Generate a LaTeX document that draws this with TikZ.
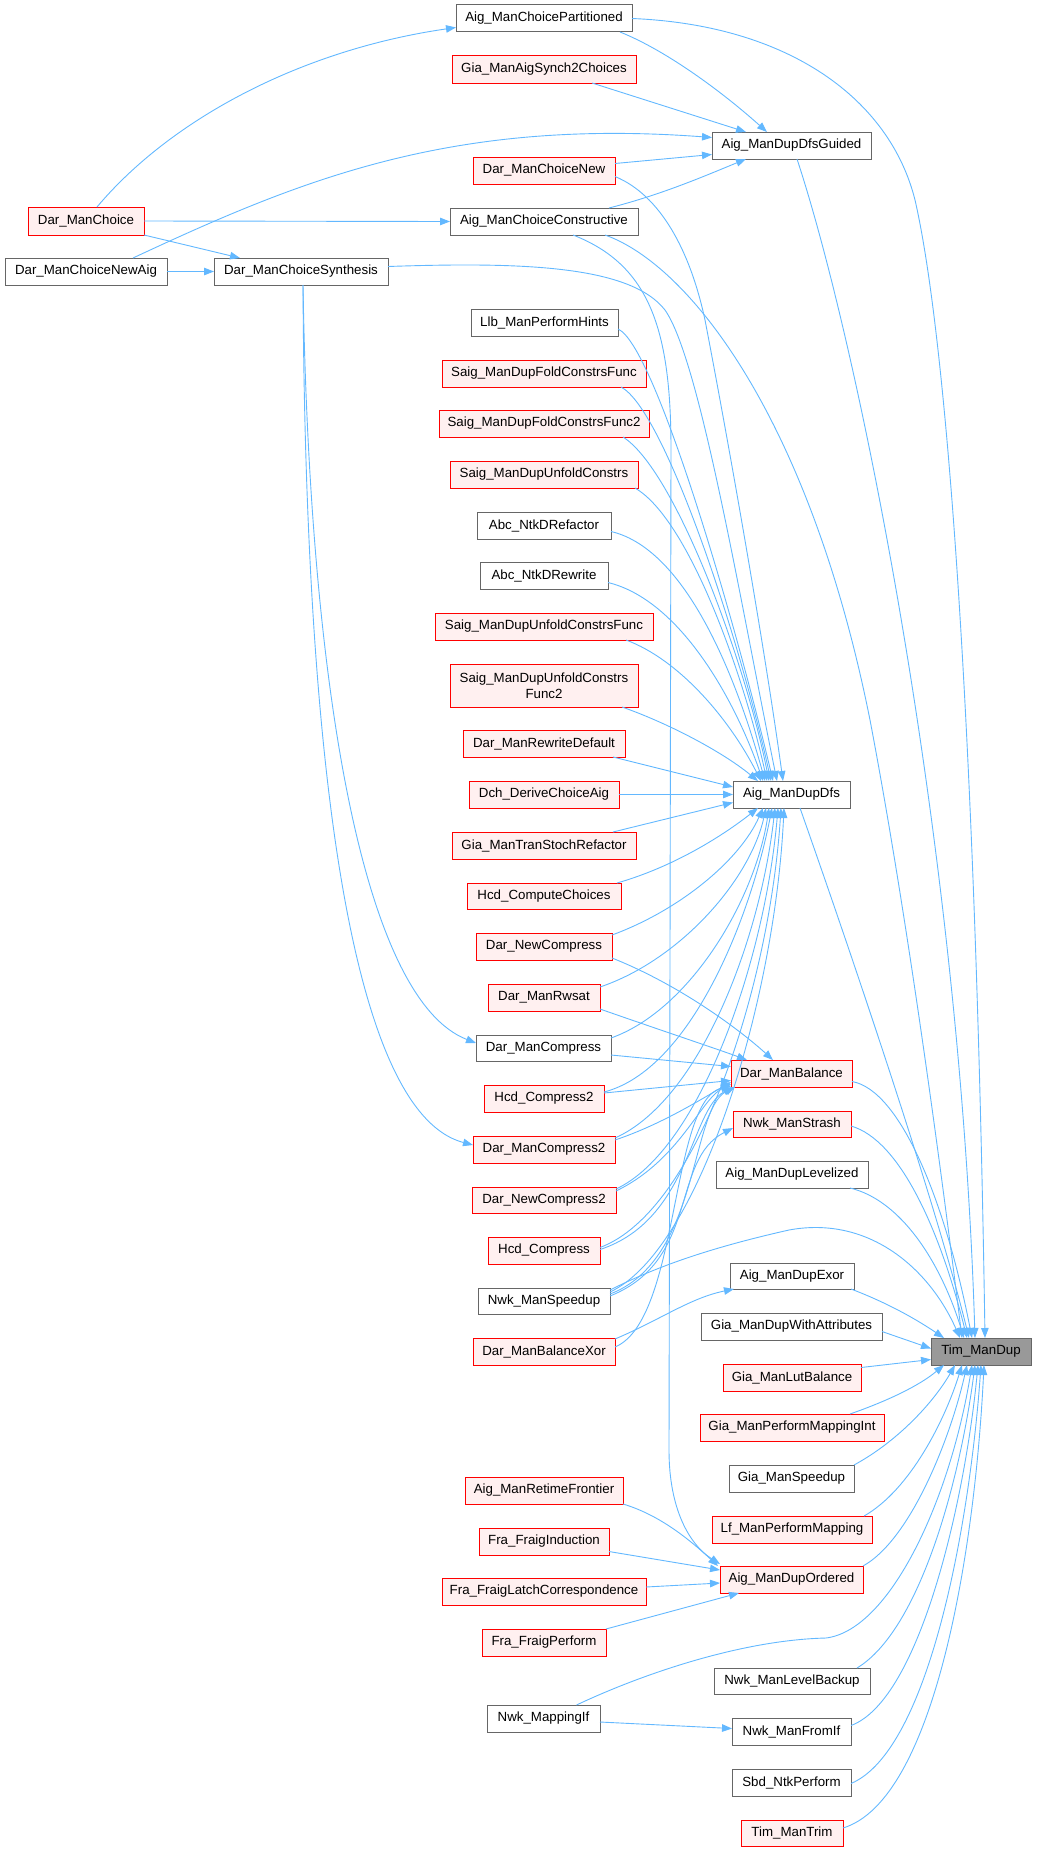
\documentclass[tikz,border=0pt]{standalone}
\usepackage{fontspec}
\setmainfont{Liberation Sans}
\usetikzlibrary{arrows.meta}
\definecolor{edgecol}{HTML}{63B8FF}
\definecolor{nodered}{HTML}{FF0000}
\definecolor{nodefill}{HTML}{FFF0F0}
\definecolor{nodegray}{HTML}{666666}
\definecolor{timfill}{HTML}{999999}
\tikzset{
  box/.style={rectangle, inner sep=0pt, outer sep=0pt, line width=1pt, align=center, font=\fontsize{13.3}{16}\selectfont},
  rbox/.style={box, draw=nodered, fill=nodefill},
  gbox/.style={box, draw=nodegray, fill=white},
  tbox/.style={box, draw=nodegray, fill=timfill},
  ed/.style={draw=edgecol, line width=0.9pt, -{Triangle[length=10pt,width=7.5pt]}}
}
\newcommand{\fnode}[7]{\node[#6, minimum width={(#4)-(#2)}, minimum height={(#5)-(#3)}] (#1) at ({((#2)+(#4))/2},{((#3)+(#5))/2}) {#7};}
\begin{document}
\begin{tikzpicture}[x=1pt,y=-1pt]
\useasboundingbox (0,0) rectangle (1036,1852);
% nodes
\fnode{cp}{456}{5}{632}{32}{gbox}{Aig\_ManChoicePartitioned}
\fnode{gs}{452}{56}{636}{83}{rbox}{Gia\_ManAigSynch2Choices}
\fnode{dg}{712}{132}{871}{159}{gbox}{Aig\_ManDupDfsGuided}
\fnode{cn}{473}{157}{615}{184}{rbox}{Dar\_ManChoiceNew}
\fnode{dc}{28}{207}{144}{235}{rbox}{Dar\_ManChoice}
\fnode{cc}{450}{208}{638}{235}{gbox}{Aig\_ManChoiceConstructive}
\fnode{na}{5}{258}{167}{285}{gbox}{Dar\_ManChoiceNewAig}
\fnode{cs}{214}{258}{388}{285}{gbox}{Dar\_ManChoiceSynthesis}
\fnode{llb}{471}{309}{618}{336}{gbox}{Llb\_ManPerformHints}
\fnode{sf1}{442}{360}{646}{387}{rbox}{Saig\_ManDupFoldConstrsFunc}
\fnode{sf2}{439}{410}{649}{437}{rbox}{Saig\_ManDupFoldConstrsFunc2}
\fnode{su}{450}{461}{638}{488}{rbox}{Saig\_ManDupUnfoldConstrs}
\fnode{arf}{477}{512}{611}{539}{gbox}{Abc\_NtkDRefactor}
\fnode{arw}{480}{562}{608}{589}{gbox}{Abc\_NtkDRewrite}
\fnode{suf}{435}{613}{653}{640}{rbox}{Saig\_ManDupUnfoldConstrsFunc}
\fnode{suf2}{450}{664}{638}{707}{rbox}{Saig\_ManDupUnfoldConstrs\\Func2}
\fnode{rwd}{463}{730}{625}{757}{rbox}{Dar\_ManRewriteDefault}
\fnode{dch}{469}{781}{619}{808}{rbox}{Dch\_DeriveChoiceAig}
\fnode{dd}{733}{781}{850}{808}{gbox}{Aig\_ManDupDfs}
\fnode{gts}{452}{832}{636}{859}{rbox}{Gia\_ManTranStochRefactor}
\fnode{hcc}{467}{883}{621}{909}{rbox}{Hcd\_ComputeChoices}
\fnode{dnc}{476}{933}{612}{960}{rbox}{Dar\_NewCompress}
\fnode{rws}{488}{984}{600}{1011}{rbox}{Dar\_ManRwsat}
\fnode{dmc}{476}{1035}{611}{1061}{gbox}{Dar\_ManCompress}
\fnode{db}{731}{1060}{852}{1087}{rbox}{Dar\_ManBalance}
\fnode{hc2}{484}{1085}{604}{1112}{rbox}{Hcd\_Compress2}
\fnode{ns}{733}{1111}{851}{1137}{rbox}{Nwk\_ManStrash}
\fnode{dmc2}{473}{1136}{615}{1163}{rbox}{Dar\_ManCompress2}
\fnode{dl}{716}{1161}{868}{1188}{gbox}{Aig\_ManDupLevelized}
\fnode{dnc2}{472}{1187}{616}{1213}{rbox}{Dar\_NewCompress2}
\fnode{hcd}{488}{1237}{600}{1264}{rbox}{Hcd\_Compress}
\fnode{dx}{730}{1263}{854}{1289}{gbox}{Aig\_ManDupExor}
\fnode{nsp}{478}{1288}{610}{1314}{gbox}{Nwk\_ManSpeedup}
\fnode{gwa}{701}{1313}{882}{1340}{gbox}{Gia\_ManDupWithAttributes}
\fnode{tim}{931}{1338}{1031}{1365}{tbox}{Tim\_ManDup}
\fnode{bx}{473}{1338}{615}{1365}{rbox}{Dar\_ManBalanceXor}
\fnode{glb}{723}{1364}{861}{1391}{rbox}{Gia\_ManLutBalance}
\fnode{gpm}{700}{1414}{884}{1441}{rbox}{Gia\_ManPerformMappingInt}
\fnode{gsp}{729}{1465}{854}{1492}{gbox}{Gia\_ManSpeedup}
\fnode{rtf}{465}{1477}{623}{1504}{rbox}{Aig\_ManRetimeFrontier}
\fnode{lf}{712}{1516}{872}{1543}{rbox}{Lf\_ManPerformMapping}
\fnode{fi}{479}{1528}{609}{1555}{rbox}{Fra\_FraigInduction}
\fnode{dord}{720}{1566}{863}{1593}{rbox}{Aig\_ManDupOrdered}
\fnode{flc}{442}{1578}{646}{1605}{rbox}{Fra\_FraigLatchCorrespondence}
\fnode{fp}{482}{1629}{606}{1656}{rbox}{Fra\_FraigPerform}
\fnode{nlb}{714}{1668}{870}{1694}{gbox}{Nwk\_ManLevelBackup}
\fnode{nmi}{487}{1705}{600}{1732}{gbox}{Nwk\_MappingIf}
\fnode{nfi}{732}{1718}{851}{1745}{gbox}{Nwk\_ManFromIf}
\fnode{sbd}{732}{1769}{851}{1796}{gbox}{Sbd\_NtkPerform}
\fnode{tt}{741}{1820}{843}{1846}{rbox}{Tim\_ManTrim}
% top edges
\draw[ed] ([xshift=11pt]dc.north) .. controls (170,120) and (300,50) .. ([yshift=-9pt]cp.west);
\draw[ed] (dc.east) -- (cc.west);
\draw[ed] (dc.south east) -- ([xshift=26pt]cs.north west);
\draw[ed] (na.east) -- (cs.west);
\draw[ed] ([xshift=47pt]na.north) .. controls (300,180) and (450,118) .. ([yshift=8pt]dg.west);
\draw[ed] ([yshift=7pt]cn.east) -- ([yshift=-9pt]dg.west);
\draw[ed] ([xshift=48pt]gs.south) -- ([xshift=34pt]dg.north west);
\draw[ed] ([xshift=-12pt]cp.south east) .. controls (665,50) and (720,90) .. ([xshift=55pt]dg.north west);
\draw[ed] ([xshift=-29pt]cc.north east) .. controls (660,195) and (700,178) .. ([xshift=34pt]dg.south west);
\draw[ed] (cp.east) .. controls (790,25) and (890,100) .. (915,200) .. controls (945,330) and (975,700) .. ([xshift=54pt]tim.north west);
\draw[ed] ([xshift=85pt]dg.south west) .. controls (860,350) and (960,850) .. ([xshift=44pt]tim.north west);
\draw[ed] ([xshift=-33pt]cc.south east) .. controls (690,265) and (810,420) .. (870,720) .. controls (910,930) and (945,1200) .. ([xshift=31pt]tim.north west);
\draw[ed] ([xshift=-65pt]cc.south east) .. controls (650,265) and (671,330) .. (671,450) -- (669,1450) .. controls (669,1510) and (690,1545) .. ([yshift=2pt]dord.north west);
\draw[ed] ([yshift=5pt]cs.east) .. controls (520,262) and (630,265) .. (665,310) .. controls (700,360) and (740,600) .. ([xshift=44pt]dd.north west);
\draw[ed] ([yshift=-6pt]cn.east) .. controls (660,195) and (690,250) .. (705,320) .. controls (730,450) and (765,650) .. ([xshift=50pt]dd.north west);
\draw[ed] ([xshift=2pt]cs.south) .. controls (310,700) and (365,1000) .. ([yshift=5pt]dmc.west);
\draw[ed] ([xshift=2pt]cs.south) .. controls (305,700) and (340,1110) .. ([yshift=4.5pt]dmc2.west);
% into Aig_ManDupDfs from above
\draw[ed] ([yshift=-6.5pt]llb.east) .. controls (655,345) and (735,620) .. ([xshift=40pt]dd.north west);
\draw[ed] ([xshift=-25pt]sf1.south east) .. controls (665,410) and (740,640) .. ([xshift=38pt]dd.north west);
\draw[ed] ([xshift=-26pt]sf2.south east) .. controls (675,470) and (745,660) .. ([xshift=36pt]dd.north west);
\draw[ed] ([xshift=-3pt]su.south east) .. controls (690,520) and (745,680) .. ([xshift=34pt]dd.north west);
\draw[ed] ([yshift=-6pt]arf.east) .. controls (690,550) and (740,690) .. ([xshift=32pt]dd.north west);
\draw[ed] ([yshift=-7pt]arw.east) .. controls (680,600) and (735,700) .. ([xshift=30pt]dd.north west);
\draw[ed] ([xshift=-27pt]suf.south east) .. controls (680,660) and (730,720) .. ([xshift=28pt]dd.north west);
\draw[ed] ([xshift=-16pt]suf2.south east) .. controls (665,722) and (720,750) .. ([xshift=25pt]dd.north west);
\draw[ed] ([xshift=-12pt]rwd.south east) -- ([yshift=7.5pt]dd.west);
\draw[ed] (dch.east) -- (dd.west);
\draw[ed] ([xshift=-23pt]gts.north east) -- ([yshift=-8pt]dd.west);
\draw[ed] ([xshift=-4pt]hcc.north east) .. controls (680,865) and (730,830) .. ([xshift=25pt]dd.south west);
% into Aig_ManDupDfs from below
\draw[ed] ([yshift=-2pt]dnc.north east) .. controls (680,910) and (740,860) .. ([xshift=30pt]dd.south west);
\draw[ed] ([yshift=-3pt]rws.north east) .. controls (680,960) and (750,880) .. ([xshift=33pt]dd.south west);
\draw[ed] ([yshift=-3pt]dmc.north east) .. controls (690,1010) and (755,900) .. ([xshift=36pt]dd.south west);
\draw[ed] ([yshift=-7pt]hc2.north east) .. controls (690,1070) and (750,920) .. ([xshift=39pt]dd.south west);
\draw[ed] ([yshift=-2pt]dmc2.north east) .. controls (700,1100) and (760,940) .. ([xshift=42pt]dd.south west);
\draw[ed] ([yshift=-2pt]dnc2.north east) .. controls (700,1150) and (765,960) .. ([xshift=45pt]dd.south west);
\draw[ed] ([yshift=3pt]hcd.east) .. controls (700,1210) and (770,980) .. ([xshift=48pt]dd.south west);
\draw[ed] ([yshift=-4pt]nsp.north east) .. controls (700,1250) and (775,1000) .. ([xshift=51pt]dd.south west);
% into Dar_ManBalance
\draw[ed] ([yshift=2pt]dnc.south east) .. controls (680,985) and (740,1030) .. ([xshift=42pt]db.north west);
\draw[ed] ([yshift=2pt]rws.south east) .. controls (660,1030) and (720,1050) .. ([xshift=16pt]db.north west);
\draw[ed] ([yshift=-7pt]dmc.east) -- ([yshift=7pt]db.west);
\draw[ed] ([yshift=5.5pt]hc2.east) -- ([yshift=-7pt]db.west);
\draw[ed] ([yshift=-4pt]dmc2.north east) .. controls (660,1125) and (700,1100) .. ([yshift=5pt]db.south west);
\draw[ed] ([yshift=-4pt]dnc2.north east) .. controls (680,1160) and (700,1100) .. ([yshift=3pt]db.south west);
\draw[ed] ([yshift=1pt]hcd.east) .. controls (690,1220) and (690,1110) .. ([xshift=2pt]db.south west);
\draw[ed] ([yshift=-6pt]nsp.north east) .. controls (700,1260) and (690,1110) .. ([xshift=4pt]db.south west);
\draw[ed] ([yshift=-9pt]bx.north east) .. controls (680,1320) and (670,1100) .. ([yshift=1pt]db.south west);
% other middle edges
\draw[ed] ([yshift=-8pt]nsp.north east) .. controls (700,1260) and (670,1160) .. ([yshift=-4pt]ns.west);
\draw[ed] ([yshift=-2pt]nsp.north east) .. controls (650,1270) and (700,1250) .. (789,1230) .. controls (870,1215) and (930,1270) .. ([xshift=29pt]tim.north west);
\draw[ed] ([yshift=-1pt]bx.north east) .. controls (660,1320) and (690,1298) .. ([xshift=4pt]dx.south west);
% into Tim_ManDup
\draw[ed] ([xshift=67pt]dd.south west) .. controls (850,950) and (935,1200) .. ([xshift=38pt]tim.north west);
\draw[ed] ([yshift=-8pt]db.east) .. controls (900,1090) and (945,1200) .. ([xshift=41pt]tim.north west);
\draw[ed] ([yshift=-2pt]ns.east) .. controls (900,1140) and (940,1230) .. ([xshift=36pt]tim.north west);
\draw[ed] ([xshift=-18pt]dl.south east) .. controls (900,1200) and (940,1260) .. ([xshift=33pt]tim.north west);
\draw[ed] ([xshift=-3pt]dx.south east) .. controls (880,1300) and (910,1315) .. ([xshift=13pt]tim.north west);
\draw[ed] ([yshift=-5pt]gwa.east) -- ([yshift=3pt]tim.west);
\draw[ed] ([yshift=10pt]glb.east) -- ([yshift=-8pt]tim.west);
\draw[ed] ([xshift=-34pt]gpm.north east) .. controls (890,1400) and (920,1385) .. ([xshift=13pt]tim.south west);
\draw[ed] (gsp.north east) .. controls (900,1440) and (935,1400) .. ([xshift=24pt]tim.south west);
\draw[ed] ([xshift=-8pt]lf.north east) .. controls (910,1490) and (945,1420) .. ([xshift=31pt]tim.south west);
\draw[ed] (dord.north east) .. controls (910,1540) and (950,1440) .. ([xshift=36pt]tim.south west);
\draw[ed] ([xshift=33pt]nmi.north) .. controls (640,1675) and (740,1640) .. (826,1638) .. controls (890,1630) and (950,1500) .. ([xshift=41pt]tim.south west);
\draw[ed] ([xshift=-13pt]nlb.north east) .. controls (920,1630) and (960,1480) .. ([xshift=44pt]tim.south west);
\draw[ed] ([yshift=6pt]nfi.east) .. controls (920,1700) and (965,1500) .. ([xshift=47pt]tim.south west);
\draw[ed] ([yshift=-1pt]sbd.east) .. controls (930,1750) and (970,1520) .. ([xshift=50pt]tim.south west);
\draw[ed] ([yshift=5pt]tt.east) .. controls (935,1800) and (975,1550) .. ([xshift=53pt]tim.south west);
% into Aig_ManDupOrdered
\draw[ed] (rtf.south east) .. controls (660,1515) and (690,1540) .. ([xshift=-2pt]dord.north west);
\draw[ed] ([yshift=-10pt]fi.east) -- ([yshift=-4pt]dord.north west);
\draw[ed] ([yshift=4.5pt]flc.east) -- ([yshift=-3.5pt]dord.west);
\draw[ed] (fp.north east) -- ([xshift=19pt]dord.south west);
\draw[ed] ([yshift=-3.5pt]nmi.east) -- ([yshift=3pt]nfi.west);
\end{tikzpicture}
\end{document}
